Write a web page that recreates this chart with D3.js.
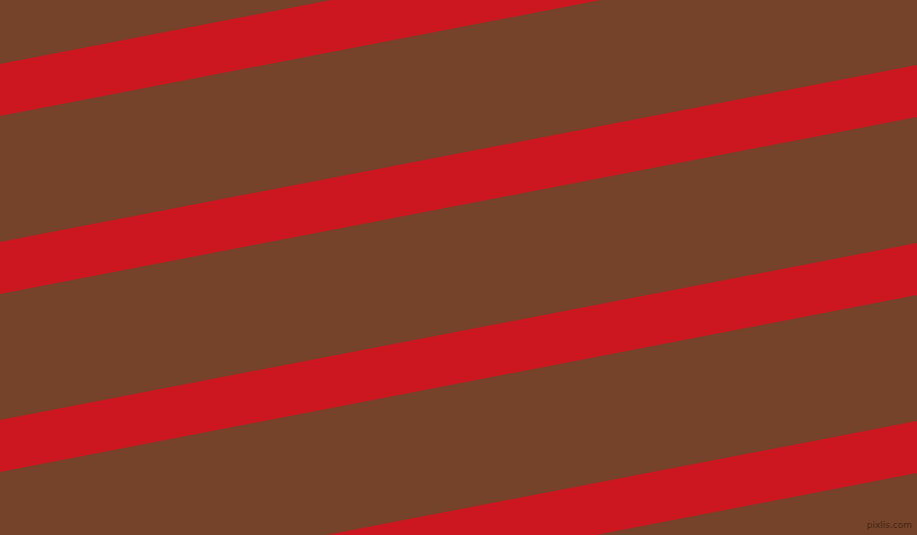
<!DOCTYPE html>
<html>
<head>
<meta charset="utf-8">
<script src="https://cdn.jsdelivr.net/npm/d3@7"></script>
<style>
  html, body { margin: 0; padding: 0; background: #74432a; overflow: hidden; }
  svg { display: block; }
</style>
</head>
<body>
<svg id="stripes"></svg>
<script>
// stripe top edges, read at the left and right border (px from top)
const stripeLeftTop = [64, 242, 420, 598];
const stripeRightTop = [-113, 65, 243, 421];
const stripeThickness = [52, 52, 52, 52];
const stripeNames = ["band 1", "band 2", "band 3", "band 4"];

function stripes(){
    const width = 917;
    const height = 535;
    const svg = d3.select("#stripes")
        .attr("width", width)
        .attr("height", height);

    // background
    svg.append("rect")
        .attr("width", width)
        .attr("height", height)
        .attr("fill", "#74432a");

    const x = d3.scaleLinear().domain([0, 1]).range([0, width]);
    const y = d3.scaleLinear().domain([0, height]).range([0, height]);

    const data = stripeNames.map(function(n, i){
        return {name: n, left: stripeLeftTop[i], right: stripeRightTop[i], t: stripeThickness[i]};
    });

    const line = d3.line()
        .x(function(p){ return x(p[0]); })
        .y(function(p){ return y(p[1]); });

    // each stripe is a 4 point polygon across the full width
    svg.append("g").selectAll("path")
        .data(data)
        .enter().append("path")
        .attr("d", function(d){
            return line([[0, d.left], [1, d.right], [1, d.right + d.t], [0, d.left + d.t]]) + "Z";
        })
        .attr("fill", "#cc1620");

    // little watermark in the corner
    svg.append("text")
        .attr("x", width - 5)
        .attr("y", height - 7)
        .attr("text-anchor", "end")
        .attr("font-family", "DejaVu Sans, sans-serif")
        .attr("font-size", 9)
        .attr("fill", "#3c1e10")
        .attr("opacity", 0.8)
        .text("pixlis.com");
}
stripes();
</script>
</body>
</html>
